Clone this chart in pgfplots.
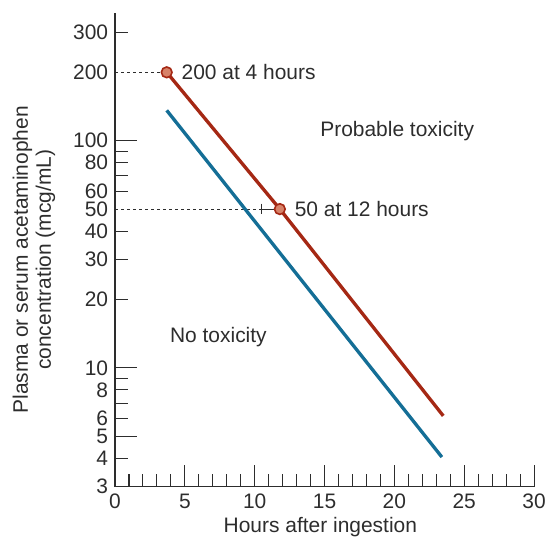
\documentclass[border=0pt]{standalone}
\usepackage{fontspec}
\setmainfont{Liberation Sans}
\usepackage{pgfplots}
\pgfplotsset{compat=1.18}
\definecolor{tred}{RGB}{165,40,20}
\definecolor{tfill}{RGB}{215,130,105}
\definecolor{tblue}{RGB}{20,110,150}
\definecolor{ink}{RGB}{45,45,45}
\begin{document}
\fontsize{15.7}{17.2}\selectfont
\begin{tikzpicture}
\begin{axis}[
  scale only axis, width=314pt, height=355pt,
  xmin=0, xmax=30, ymin=3, ymax=365, ymode=log,
  axis x line=bottom, axis y line=left,
  axis line style={-, line width=0.9pt, ink},
  every tick/.style={ink, line width=0.8pt},
  tick align=inside,
  major tick length=16.5pt, minor tick length=9.5pt,
  xtick={0,5,...,30}, minor x tick num=4,
  ytick={5,10,100}, yticklabels={5,10,100},
  minor ytick={4,6,7,8,9,20,30,40,60,70,80,90,300},
  extra y ticks={3,4,6,8,20,30,40,50,60,80,200,300},
  extra y tick labels={3,4,6,8,20,30,40,50,60,80,200,300},
  extra y tick style={major tick length=0pt},
  /pgf/number format/assume math mode=true,
  tick label style={font=\fontsize{15.7}{17.2}\selectfont, ink},
  yticklabel style={inner ysep=0.3pt, inner xsep=5pt},
  xlabel={Hours after ingestion},
  ylabel={Plasma or serum acetaminophen\\concentration (mcg/mL)},
  label style={font=\fontsize{15.7}{17.2}\selectfont, ink},
  xlabel style={at={(axis description cs:0.49,0)}, anchor=base, yshift=-34.5pt},
  ylabel style={at={(axis description cs:-0.1933,0.479)}, anchor=center, align=center},
  clip=false,
]
\addplot[ink, line width=0.6pt, dash pattern=on 2.5pt off 2pt] coordinates {(0,200) (3.7,200)};
\addplot[ink, line width=0.6pt, dash pattern=on 2.5pt off 2pt] coordinates {(0,50) (10.5,50)};
\addplot[ink, line width=0.6pt, mark=|, mark size=4pt, mark options={solid}] coordinates {(10.5,50) (11.8,50)};
\addplot[tblue, line width=2.5pt] coordinates {(3.7,136) (23.4,4.05)};
\addplot[tred, line width=2.5pt] coordinates {(3.7,200) (11.8,50) (23.5,6.15)};
\addplot[only marks, mark=*, mark size=4pt, mark options={fill=tfill, draw=tred, line width=1.2pt}] coordinates {(3.7,200) (11.8,50)};
\node[anchor=west, ink, inner sep=0pt] at (axis cs:3.7,200) [xshift=11pt] {200 at 4 hours};
\node[anchor=west, ink, inner sep=0pt] at (axis cs:11.8,50) [xshift=11pt] {50 at 12 hours};
\node[ink] at (axis cs:20.2,110) {Probable toxicity};
\node[ink] at (axis cs:7.4,13.7) {No toxicity};
\coordinate (SW) at (rel axis cs:0,0);
\coordinate (NE) at (rel axis cs:1,1);
\end{axis}
\pgfresetboundingbox
\path ([shift={(-86.2pt,-38.2pt)}]SW) rectangle ([shift={(9.7pt,9.7pt)}]NE);
\end{tikzpicture}
\end{document}
